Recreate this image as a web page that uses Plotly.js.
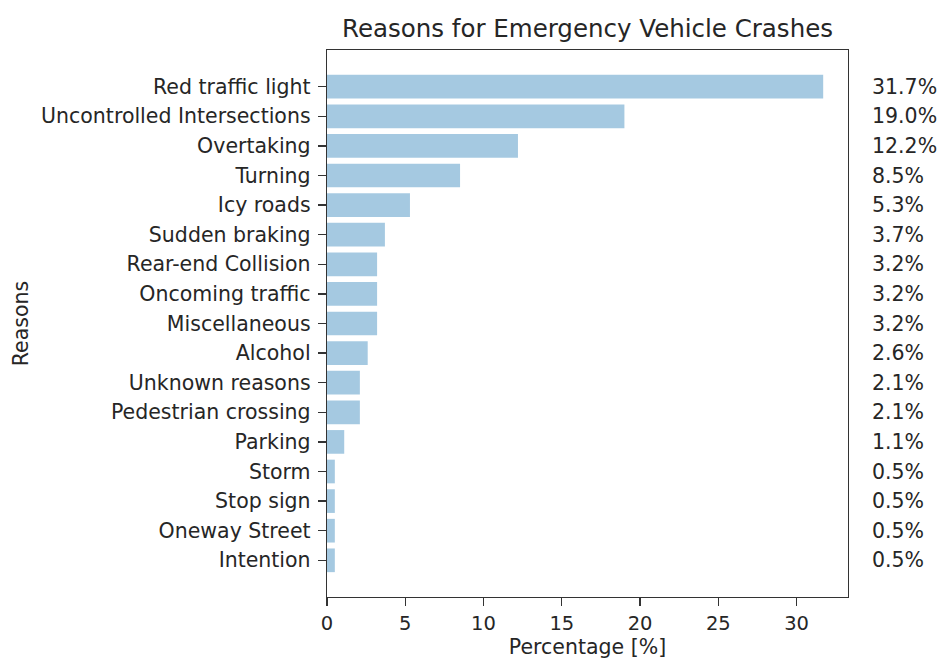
<!DOCTYPE html>
<html>
<head>
<meta charset="utf-8">
<script src="https://cdn.plot.ly/plotly-3.0.1.min.js"></script>
<style>html,body{margin:0;padding:0;background:#fff;}#chart{width:940px;height:660px;}</style>
</head>
<body>
<div id="chart"></div>
<script>
const reasons = ["Red traffic light","Uncontrolled Intersections","Overtaking","Turning","Icy roads","Sudden braking","Rear-end Collision","Oncoming traffic","Miscellaneous","Alcohol","Unknown reasons","Pedestrian crossing","Parking","Storm","Stop sign","Oneway Street","Intention"];
const percentages = [31.7,19.0,12.2,8.5,5.3,3.7,3.2,3.2,3.2,2.6,2.1,2.1,1.1,0.5,0.5,0.5,0.5];
const xTicks = [0,5,10,15,20,25,30];

const font = "DejaVu Sans, sans-serif";
const textColor = "#262626";

const trace = {
  type: "bar",
  orientation: "h",
  x: percentages,
  y: reasons,
  width: 0.8,
  marker: {color: "rgba(31,119,180,0.4)", line: {width: 0}},
  hoverinfo: "none"
};

const annotations = reasons.map((r, i) => ({
  xref: "paper", yref: "y",
  x: 1.043, y: r,
  text: percentages[i].toFixed(1) + "%",
  showarrow: false,
  xanchor: "left", yanchor: "middle",
  font: {family: font, size: 20.5, color: textColor}
}));

const maxV = Math.max(...percentages);

const layout = {
  width: 940, height: 660,
  margin: {l: 327, r: 92, t: 50, b: 63, pad: 0},
  paper_bgcolor: "#fff", plot_bgcolor: "#fff",
  showlegend: false,
  title: {text: "Reasons for Emergency Vehicle Crashes", x: 0.5, xanchor: "center", xref: "paper", y: 1 - 28/660, yanchor: "middle",
          font: {family: font, size: 24.5, color: textColor}},
  xaxis: {
    range: [0, maxV * 1.05],
    tickvals: xTicks,
    ticktext: xTicks.map(String),
    ticks: "outside", ticklen: 8, tickwidth: 1.3, tickcolor: "#333",
    ticklabelstandoff: 0,
    showline: true, linecolor: "#333", linewidth: 1.3, mirror: true,
    showgrid: false, zeroline: false,
    tickfont: {family: font, size: 19.5, color: textColor},
    title: {text: "Percentage [%]", standoff: 4, font: {family: font, size: 20.5, color: textColor}}
  },
  yaxis: {
    type: "category",
    categoryorder: "array", categoryarray: reasons,
    range: [reasons.length - 1 + 1.24, -1.24],
    ticks: "outside", ticklen: 8, tickwidth: 1.3, tickcolor: "#333",
    ticklabelstandoff: 3,
    showline: true, linecolor: "#333", linewidth: 1.3, mirror: true,
    showgrid: false, zeroline: false,
    tickfont: {family: font, size: 20.5, color: textColor},
    title: {text: "Reasons", standoff: 7, font: {family: font, size: 20.5, color: textColor}}
  },
  annotations: annotations,
  bargap: 0.2
};

Plotly.newPlot("chart", [trace], layout, {displayModeBar: false, staticPlot: true});
</script>
</body>
</html>
